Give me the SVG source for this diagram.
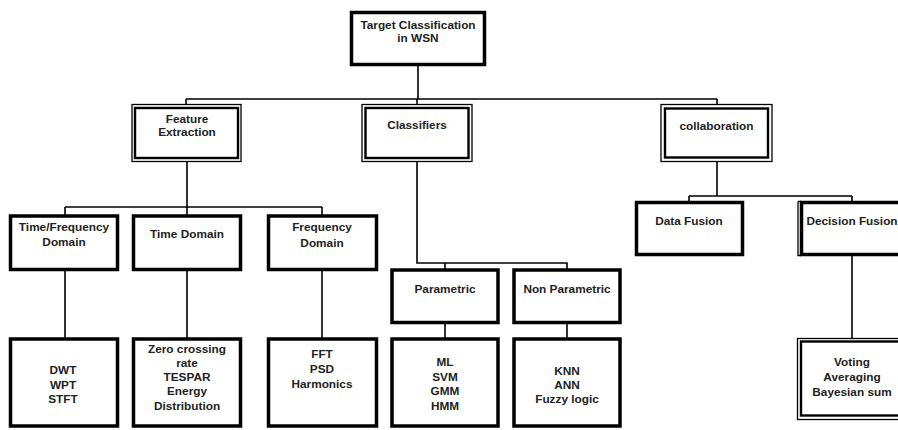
<svg xmlns="http://www.w3.org/2000/svg" width="898" height="430" viewBox="0 0 898 430">
  <style>
    .bg { fill: #ffffff; }
    .thick { fill: #ffffff; stroke: #000000; stroke-width: 3.5; }
    .outer { fill: #ffffff; stroke: #000000; stroke-width: 1.3; }
    .inner { fill: none; stroke: #000000; stroke-width: 2.4; }
    .thin { fill: none; stroke: #000000; stroke-width: 1.3; }
    .conn { fill: none; stroke: #000000; stroke-width: 1.6; }
    text { font-family: "Liberation Sans", Arial, sans-serif; font-size: 11.8px; font-weight: bold; fill: #222222; text-anchor: middle; }
  </style>
  <rect class="bg" x="0" y="0" width="898" height="430"/>

  <!-- connectors -->
  <g id="connectors">
    <path class="conn" d="M418 65 V99 M186 99 H717 M186 99 V104 M417 99 V104 M717 99 V104"/>
    <path class="conn" d="M187 162 V215 M65 207 H322 M65 207 V215 M322 207 V215"/>
    <path class="conn" d="M65 270 V338 M187 270 V338 M322 270 V338"/>
    <path class="conn" d="M417 162 V263 H567 V269 M445 263 V269"/>
    <path class="conn" d="M445 323 V338 M567 323 V338"/>
    <path class="conn" d="M717 162 V196 M689 196 H852 M689 196 V202 M852 196 V202"/>
    <path class="conn" d="M852 255 V338"/>
  </g>

  <!-- root -->
  <g id="target-classification">
    <rect class="thick" x="351.5" y="12.5" width="133" height="52"/>
    <text x="418" y="29">Target Classification</text>
    <text x="418" y="42">in WSN</text>
  </g>

  <!-- second level: double-bordered boxes -->
  <g id="feature-extraction">
    <rect class="outer" x="132" y="104.5" width="109" height="57"/>
    <rect class="inner" x="135" y="108" width="103" height="50"/>
    <text x="187" y="123">Feature</text>
    <text x="187" y="136">Extraction</text>
  </g>
  <g id="classifiers">
    <rect class="outer" x="362" y="104.5" width="110" height="57"/>
    <rect class="inner" x="365.5" y="108" width="103" height="50"/>
    <text x="417" y="129">Classifiers</text>
  </g>
  <g id="collaboration">
    <rect class="outer" x="661" y="104.5" width="111" height="57"/>
    <rect class="inner" x="665" y="108.5" width="103" height="49"/>
    <text x="716.5" y="130">collaboration</text>
  </g>

  <!-- feature extraction branch -->
  <g id="time-frequency-domain">
    <rect class="thick" x="10.5" y="216" width="107" height="53.5"/>
    <text x="64" y="231">Time/Frequency</text>
    <text x="64" y="246">Domain</text>
  </g>
  <g id="time-domain">
    <rect class="thick" x="133.5" y="216" width="107" height="53.5"/>
    <text x="187" y="238">Time Domain</text>
  </g>
  <g id="frequency-domain">
    <rect class="thick" x="268.5" y="216" width="108" height="53.5"/>
    <text x="322" y="231">Frequency</text>
    <text x="322" y="247">Domain</text>
  </g>

  <g id="dwt-wpt-stft">
    <rect class="thick" x="10.5" y="339" width="107" height="87"/>
    <text x="63" y="374">DWT</text>
    <text x="63" y="388.5">WPT</text>
    <text x="63" y="403">STFT</text>
  </g>
  <g id="time-features">
    <rect class="thick" x="133.5" y="339" width="107" height="87"/>
    <text x="187" y="353">Zero crossing</text>
    <text x="187" y="367">rate</text>
    <text x="187" y="381">TESPAR</text>
    <text x="187" y="395">Energy</text>
    <text x="187" y="410">Distribution</text>
  </g>
  <g id="frequency-features">
    <rect class="thick" x="268.5" y="339" width="108" height="87"/>
    <text x="322" y="358">FFT</text>
    <text x="322" y="373">PSD</text>
    <text x="322" y="388">Harmonics</text>
  </g>

  <!-- classifiers branch -->
  <g id="parametric">
    <rect class="thick" x="392" y="270" width="106" height="52.5"/>
    <text x="445" y="293">Parametric</text>
  </g>
  <g id="non-parametric">
    <rect class="thick" x="514" y="270" width="106" height="52.5"/>
    <text x="567" y="293">Non Parametric</text>
  </g>
  <g id="parametric-methods">
    <rect class="thick" x="392" y="339" width="106" height="87"/>
    <text x="445" y="366">ML</text>
    <text x="445" y="381">SVM</text>
    <text x="445" y="395">GMM</text>
    <text x="445" y="410">HMM</text>
  </g>
  <g id="non-parametric-methods">
    <rect class="thick" x="514" y="339" width="106" height="87"/>
    <text x="567" y="375">KNN</text>
    <text x="567" y="389">ANN</text>
    <text x="567" y="403">Fuzzy logic</text>
  </g>

  <!-- collaboration branch -->
  <g id="data-fusion">
    <rect class="thick" x="636.5" y="202.5" width="106" height="52"/>
    <text x="689" y="225">Data Fusion</text>
  </g>
  <g id="decision-fusion">
    <rect class="thick" x="801.5" y="202.5" width="110" height="52"/>
    <path class="thin" d="M798 201.5 V255.5 H801 M798 201.5 H801"/>
    <text x="852" y="225">Decision Fusion</text>
  </g>
  <g id="fusion-methods">
    <rect class="outer" x="797.5" y="338.5" width="115" height="81"/>
    <rect class="inner" x="801" y="341.5" width="110" height="74"/>
    <text x="852" y="366">Voting</text>
    <text x="852" y="381">Averaging</text>
    <text x="852" y="396">Bayesian sum</text>
  </g>
</svg>
